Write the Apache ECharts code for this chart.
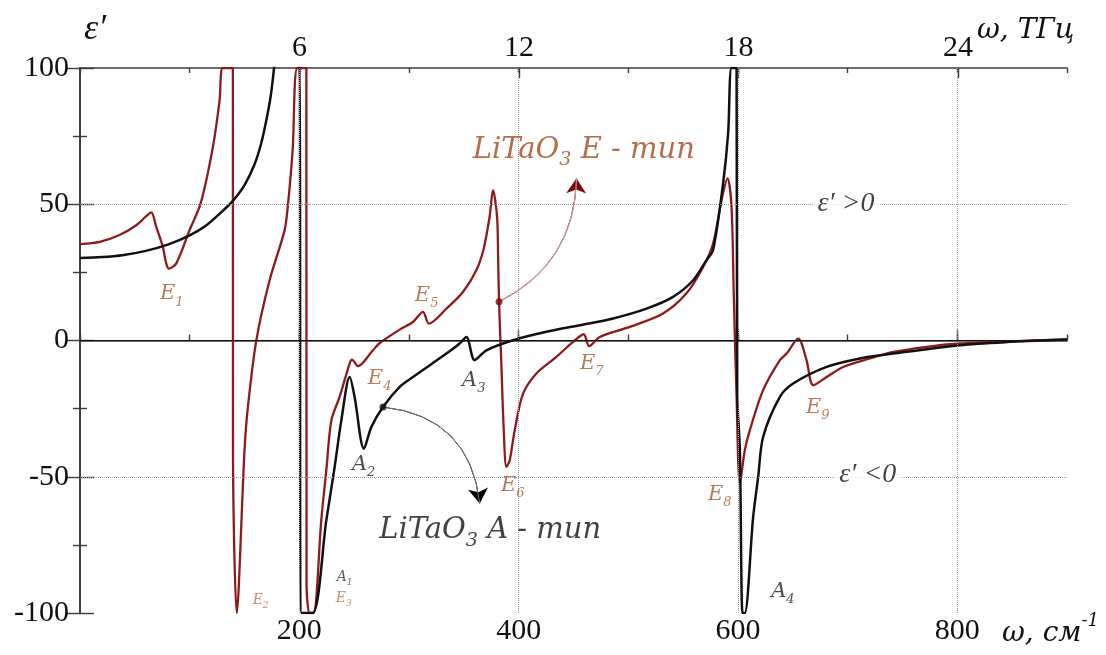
<!DOCTYPE html>
<html>
<head>
<meta charset="utf-8">
<script src="https://cdn.jsdelivr.net/npm/echarts@6/dist/echarts.min.js"></script>
<style>
  html, body { margin: 0; padding: 0; background: #fff; }
  #chart { width: 1106px; height: 655px; }
</style>
</head>
<body>
<div id="chart"></div>
<script>
// Real part of the permittivity of LiTaO3, ε′(ω), for the E-type and A-type phonon modes.
// Values outside ±100 are held at the frame edge (or just beyond it, where the curve leaves the frame).

// E-type: wavenumber (cm^-1) and ε′
const eWavenumber = [0, 18, 36, 51.3, 60.4, 65, 69.5, 75.5, 78.6, 81, 87.8, 99.9, 110, 121.2, 127.3, 130.3,
  139.4, 139.5, 143, 150, 153.1, 160.8, 172.9, 186.6, 189.6, 193.9, 198.2, 206.4, 206.6, 209.4, 213,
  220, 224.6, 229.2, 236.7, 245.9, 248, 253.4, 267.1, 273.1, 291.5, 303.6, 312.7, 318.2, 334.1, 349.2,
  361.4, 368, 373.5, 376.6, 380.3, 381.3, 382.1, 384.2, 386.4, 388.8, 391.8, 396.4, 404, 416.2, 434.4,
  449.6, 459.3, 464.2, 474, 501.3, 531.7, 553, 568.2, 577.3, 585, 590.4, 594.1, 596.2, 598.7, 601.7,
  606.2, 610.8, 622.9, 638.2, 644.3, 654.9, 662.5, 668.6, 680.8, 695.9, 720.3, 741.5, 772, 802.5, 848, 900];
const eEpsilon = [35.4, 36.2, 38.7, 42.3, 45.6, 47.0, 41.7, 34.4, 28.3, 26.4, 28.3, 40.5, 50.3, 71, 88.2, 100,
  100, -40, -100, -40.4, -24.4, 0.1, 22.1, 40.5, 49.7, 69.9, 100, 100, -90, -100, -100,
  -66, -47.6, -29.3, -20.7, -8.4, -7.0, -9.4, -3.6, -1.0, 4.0, 6.8, 10.5, 6.2, 11.7, 17.8,
  25.8, 33.5, 45.4, 55.2, 45.4, 30, 14.2, -8.4, -32.9, -46.4, -44, -32.9, -19.5, -12.1, -6,
  -0.5, 2.3, -2.1, 1.3, 5, 9.9, 17.3, 27, 35.6, 51.5, 59.5, 49, 16, -20.7, -52.5,
  -40.3, -32.9, -18.2, -7.2, -4.8, 0.7, -7.2, -16.4, -13.4, -9.7, -6.6, -4.2, -2.3, -1.1, -0.3, 0.4];

// A-type: wavenumber (cm^-1) and ε′
const aWavenumber = [0, 20, 40, 60, 80, 100, 115, 130, 140, 150, 159, 165, 170, 174, 177, 178, 199.3, 202.1,
  212.1, 224.6, 232.2, 238.3, 245.9, 250.4, 258.9, 265.7, 276.3, 291.5, 303.6, 334.1, 346.2, 352.3,
  359.9, 370.6, 394.8, 425.3, 455.7, 486.1, 516.6, 540.8, 559.1, 571.3, 577.3, 586.4, 591, 594.1,
  598.7, 599.3, 601.7, 604.1, 606.2, 613.8, 618.4, 622.9, 638.2, 650.3, 680.8, 711.2, 741.5, 802.5, 848, 900];
const aEpsilon = [30.3, 30.6, 31.4, 32.9, 35.2, 38.6, 42.2, 47.5, 51.5, 57, 64.5, 72, 81, 90, 100, 103, 103, -100,
  -100, -66, -46.4, -29.3, -13.4, -20.7, -39.7, -31.7, -24.4, -17, -13.4, -4.8, -1.1, 1.3,
  -7.2, -3.6, 0.1, 3.2, 5.6, 8.1, 11.7, 16, 22.1, 29.5, 33.2, 57.6, 76, 100,
  100, -20, -40, -100, -100, -64.8, -50.1, -35.4, -20.7, -15.8, -9.7, -6.6, -4.8, -1.7, -0.5, 0.4];

// Axis ticks
const cmTickLabels = [200, 400, 600, 800];      // bottom axis, cm^-1
const thzTickLabels = [6, 12, 18, 24];          // top axis, THz
const CM_PER_THZ = 33.356;

// Mode names: letter, index, wavenumber, ε′, small
const modeLabels = [
  ['E', '1', 83.6, 17.1, false],
  ['E', '2', 164.7, -95.3, true],
  ['A', '1', 241.3, -86.9, true],
  ['E', '3', 240.4, -94.6, true],
  ['A', '2', 258.6, -45.4, false],
  ['E', '4', 273.2, -13.8, false],
  ['E', '5', 316.1, 16.6, false],
  ['A', '3', 359.0, -14.6, false],
  ['E', '6', 394.6, -53.1, false],
  ['E', '7', 466.7, -8.3, false],
  ['E', '8', 583.4, -56.4, false],
  ['A', '4', 640.9, -92.1, false],
  ['E', '9', 672.8, -24.5, false]
];

// Marked points on each curve and the tips of their pointers
const eMarkedAt = 382.1;
const aMarkedAt = 276.3;
const eArrowTip = [452.7, 59.5];
const aArrowTip = [364.5, -59.8];

const zip = (xs, ys) => xs.map((x, i) => [x, ys[i]]);
const eData = zip(eWavenumber, eEpsilon);
const aData = zip(aWavenumber, aEpsilon);
const ePoint = eData[eWavenumber.indexOf(eMarkedAt)];
const aPoint = aData[aWavenumber.indexOf(aMarkedAt)];

const RED = '#8e1b1b';
const BLACK = '#111111';
const BROWN = '#a14a1e';
const AXIS = '#3c3c3c';
const SERIF = '"Liberation Serif", "Times New Roman", serif';
const LABEL_FONT = '"DejaVu Serif", serif';

const tickFont = { fontFamily: SERIF, fontSize: 30, color: '#111' };
const axisLine = { show: true, lineStyle: { color: AXIS, width: 1.7 } };

const it = (size, color, extra) => Object.assign(
  { fontFamily: LABEL_FONT, fontStyle: 'italic', fontSize: size, color }, extra);
const richStyles = {
  mE: it(21, '#a65a2e', { lineHeight: 30 }),
  sE: it(13, '#a65a2e', { lineHeight: 13, verticalAlign: 'bottom' }),
  mA: it(21, '#1e1e1e', { lineHeight: 30 }),
  sA: it(13, '#1e1e1e', { lineHeight: 13, verticalAlign: 'bottom' }),
  tE: it(14, '#b0704f', { lineHeight: 20 }),
  tsE: it(9, '#b0704f', { lineHeight: 9, verticalAlign: 'bottom' }),
  tA: it(14, '#333', { lineHeight: 20 }),
  tsA: it(9, '#333', { lineHeight: 9, verticalAlign: 'bottom' }),
  cE: it(29, BROWN, { lineHeight: 40 }),
  cEs: it(19, BROWN, { lineHeight: 19, verticalAlign: 'bottom' }),
  cA: it(29, BLACK, { lineHeight: 40 }),
  cAs: it(19, BLACK, { lineHeight: 19, verticalAlign: 'bottom' }),
  sign: { fontFamily: SERIF, fontStyle: 'italic', fontSize: 28, color: BLACK, lineHeight: 30 }
};

const labelItems = modeLabels.map(([letter, idx, x, y, small]) => {
  const main = (small ? 't' : 'm') + letter;
  const sub = (small ? 'ts' : 's') + letter;
  return { value: [x, y], text: `{${main}|${letter}}{${sub}|${idx}}` };
});
labelItems.push(
  { value: [459.4, 69.9], text: '{cE|LiTaO}{cEs|3}{cE| E - тип}' },
  { value: [374.0, -69.7], text: '{cA|LiTaO}{cAs|3}{cA| A - тип}' },
  { value: [698.4, 50.4], text: '{sign|ε′ >0}', label: { backgroundColor: '#fff', padding: [0, 5] } },
  { value: [718.4, -49.4], text: '{sign|ε′ <0}', label: { backgroundColor: '#fff', padding: [0, 5] } }
);

const gridLine = { type: 'dotted', color: '#9a9a9a', width: 1 };

// A curved pointer from a marked point to its caption
function pointer(from, to, color, width, curveness, arrow, z) {
  return {
    type: 'lines', coordinateSystem: 'cartesian2d', xAxisIndex: 0, yAxisIndex: 0,
    z, silent: true, polyline: false,
    symbol: arrow ? ['none', 'arrow'] : ['none', 'none'], symbolSize: 15,
    lineStyle: { type: 'solid', color, width, curveness, opacity: 1 },
    data: [{ coords: [from, to] }]
  };
}

const option = {
  animation: false,
  backgroundColor: '#fff',
  grid: { left: 80, right: 39, top: 68, bottom: 42 },
  xAxis: [
    {
      type: 'value', position: 'bottom', min: 0, max: 900, interval: 200,
      axisLine, axisTick: { inside: true, length: 11, lineStyle: { color: AXIS, width: 1.4 } },
      axisLabel: Object.assign({ margin: 3, showMinLabel: false, showMaxLabel: false,
        formatter: v => cmTickLabels.includes(v) ? String(v) : '' }, tickFont),
      splitLine: { show: false }
    },
    {
      type: 'value', position: 'bottom', min: 0, max: 900, interval: 100,
      axisLine: { show: false }, axisTick: { inside: true, length: 6, lineStyle: { color: AXIS, width: 1.4 } },
      axisLabel: { show: false }, splitLine: { show: false }
    },
    {
      type: 'value', position: 'top', min: 0, max: 900 / CM_PER_THZ, interval: 6,
      axisLine, axisTick: { inside: true, length: 10, lineStyle: { color: AXIS, width: 1.4 } },
      axisLabel: Object.assign({ margin: 5, showMinLabel: false, showMaxLabel: false,
        formatter: v => thzTickLabels.includes(v) ? String(v) : '' }, tickFont),
      splitLine: { show: false }
    },
    {
      type: 'value', position: 'top', min: 0, max: 900, interval: 100,
      axisLine: { show: false }, axisTick: { inside: true, length: 5, lineStyle: { color: AXIS, width: 1.4 } },
      axisLabel: { show: false }, splitLine: { show: false }
    }
  ],
  yAxis: [
    {
      type: 'value', position: 'left', min: -100, max: 100, interval: 50,
      axisLine, axisTick: { inside: true, length: 14, lineStyle: { color: AXIS, width: 1.4 } },
      minorTick: { show: true, splitNumber: 2, length: 7, lineStyle: { color: AXIS, width: 1.4 } },
      axisLabel: Object.assign({ margin: 11 }, tickFont),
      splitLine: { show: false }
    },
    {
      type: 'value', position: 'right', min: -100, max: 100, interval: 50,
      axisLine, axisTick: { inside: true, length: 14, lineStyle: { color: AXIS, width: 1.4 } },
      minorTick: { show: true, splitNumber: 2, length: 7, lineStyle: { color: AXIS, width: 1.4 } },
      axisLabel: { show: false }, splitLine: { show: false }
    }
  ],
  series: [
    {
      // reference lines: dotted grid and the ε′ = 0 line
      type: 'line', data: [[0, 0]], showSymbol: false, lineStyle: { opacity: 0 }, z: 1, silent: true,
      markLine: {
        silent: true, symbol: 'none', label: { show: false },
        data: [
          ...cmTickLabels.map(v => ({ xAxis: v, lineStyle: gridLine })),
          { yAxis: 50, lineStyle: gridLine },
          { yAxis: -50, lineStyle: gridLine },
          { yAxis: 0, lineStyle: { type: 'solid', color: '#111', width: 1.2 } }
        ]
      }
    },
    {
      name: 'E', type: 'line', data: eData, showSymbol: false, z: 3, clip: true,
      lineStyle: { color: RED, width: 2.3 }, smooth: 0.3
    },
    {
      name: 'A', type: 'line', data: aData, showSymbol: false, z: 4, clip: true,
      lineStyle: { color: BLACK, width: 2.5 }, smooth: 0.3
    },
    pointer(ePoint, eArrowTip, '#7a0c0c', 1, -0.3, true, 5),
    pointer(ePoint, eArrowTip, '#c49a9a', 1.2, -0.3, false, 6),
    pointer(aPoint, aArrowTip, '#000', 1, 0.4, true, 5),
    pointer(aPoint, aArrowTip, '#777', 1, 0.4, false, 6),
    {
      type: 'scatter', z: 7, silent: true, symbolSize: 7,
      data: [
        { value: ePoint, itemStyle: { color: '#7a0c0c' } },
        { value: aPoint, itemStyle: { color: '#111' } }
      ]
    },
    {
      type: 'scatter', z: 8, silent: true, symbolSize: 0,
      data: labelItems,
      label: { show: true, position: 'inside', formatter: p => p.data.text, rich: richStyles }
    }
  ],
  graphic: [
    { type: 'text', left: 84, top: 12,
      style: { text: 'ε′', font: 'italic 36px "Liberation Serif", serif', fill: '#111' } },
    { type: 'text', left: 977, top: 17,
      style: { text: 'ω, ТГц', font: 'italic 28px "DejaVu Serif", serif', fill: '#111' } },
    { type: 'text', left: 1002, top: 612,
      style: {
        text: '{a|ω, см}{b|-1}',
        rich: {
          a: { font: 'italic 28px "DejaVu Serif", serif', fill: '#111', lineHeight: 44 },
          b: { font: 'italic 18px "DejaVu Serif", serif', fill: '#111', verticalAlign: 'top', lineHeight: 18 }
        }
      } }
  ]
};

const chart = echarts.init(document.getElementById('chart'), null, { renderer: 'canvas' });
chart.setOption(option);
</script>
</body>
</html>
